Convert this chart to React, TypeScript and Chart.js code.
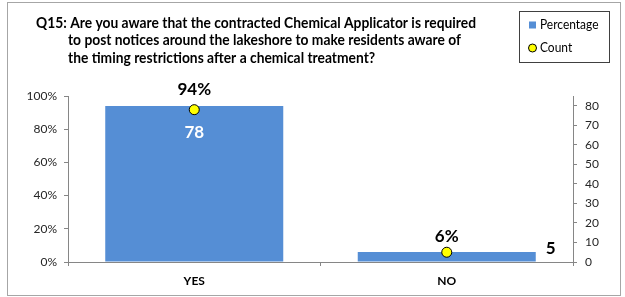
import React, { useEffect, useRef } from 'react';
import { Chart, registerables } from 'chart.js';

Chart.register(...registerables);

const categories = ['YES', 'NO'];
const percentages = [94, 6];
const counts = [78, 5];
const countLabelPlacement = ['inside', 'right'];
const titleLines = [
  'Q15: Are you aware that the contracted Chemical Applicator is required',
  'to post notices around the lakeshore to make residents aware of',
  'the timing restrictions after a chemical treatment?',
];
const legendLabels = ['Percentage', 'Count'];

const BAR_COLOR = '#558ED5';
const POINT_COLOR = '#FFFF00';
const AXIS_COLOR = '#868686';
const FONT = 'Lato, "Open Sans", sans-serif';

function drawText(
  ctx: CanvasRenderingContext2D,
  text: string,
  x: number,
  y: number,
  font: string,
  color: string,
  align: CanvasTextAlign,
  sx = 1
) {
  ctx.save();
  ctx.translate(x, y);
  ctx.scale(sx, 1);
  ctx.font = font;
  ctx.fillStyle = color;
  ctx.textAlign = align;
  ctx.textBaseline = 'middle';
  ctx.fillText(text, 0, 0);
  ctx.restore();
}

const decorPlugin = {
  id: 'decor',
  afterDraw(chart: any) {
    const ctx: CanvasRenderingContext2D = chart.ctx;
    // outer frame
    ctx.save();
    ctx.strokeStyle = '#A6A6A6';
    ctx.lineWidth = 1;
    ctx.strokeRect(7.5, 2.5, 613, 293);
    ctx.restore();

    // title
    const titleFont = `bold 14.5px ${FONT}`;
    ctx.save();
    ctx.font = titleFont;
    const w1 = ctx.measureText(titleLines[0]).width;
    ctx.restore();
    const sx = 440 / w1;
    drawText(ctx, titleLines[0], 36, 23, titleFont, '#000', 'left', sx);
    drawText(ctx, titleLines[1], 68, 40.5, titleFont, '#000', 'left', sx);
    drawText(ctx, titleLines[2], 68, 58, titleFont, '#000', 'left', sx);

    // legend
    ctx.save();
    ctx.strokeStyle = '#404040';
    ctx.lineWidth = 1;
    ctx.strokeRect(519.5, 11.5, 90, 51);
    ctx.fillStyle = BAR_COLOR;
    ctx.fillRect(529, 21.5, 7, 7);
    ctx.beginPath();
    ctx.arc(532.5, 48, 4, 0, Math.PI * 2);
    ctx.fillStyle = POINT_COLOR;
    ctx.fill();
    ctx.strokeStyle = '#000';
    ctx.stroke();
    ctx.restore();
    drawText(ctx, legendLabels[0], 540, 25, `13px ${FONT}`, '#000', 'left', 0.92);
    drawText(ctx, legendLabels[1], 540, 48, `13px ${FONT}`, '#000', 'left', 0.92);

    // data labels
    const barMeta = chart.getDatasetMeta(0);
    const ptMeta = chart.getDatasetMeta(1);
    const labelFont = `bold 17px ${FONT}`;
    barMeta.data.forEach((bar: any, i: number) => {
      drawText(ctx, `${percentages[i]}%`, bar.x, bar.y - 16, labelFont, '#000', 'center');
    });
    ptMeta.data.forEach((pt: any, i: number) => {
      const bar = barMeta.data[i];
      if (countLabelPlacement[i] === 'inside') {
        drawText(ctx, String(counts[i]), pt.x, pt.y + 23, labelFont, '#FFFFFF', 'center');
      } else {
        drawText(ctx, String(counts[i]), bar.x + bar.width / 2 + 10, pt.y - 4, labelFont, '#000', 'left');
      }
    });
  },
};

export default function App() {
  const ref = useRef<HTMLCanvasElement | null>(null);
  useEffect(() => {
    if (!ref.current) return;
    const chart = new Chart(ref.current, {
      type: 'bar',
      data: {
        labels: categories,
        datasets: [
          {
            type: 'bar',
            label: legendLabels[0],
            data: percentages,
            yAxisID: 'y',
            backgroundColor: BAR_COLOR,
            barPercentage: 0.705,
            categoryPercentage: 1,
            order: 2,
          } as any,
          {
            type: 'line',
            label: legendLabels[1],
            data: counts,
            yAxisID: 'y1',
            showLine: false,
            pointRadius: 5,
            pointBackgroundColor: POINT_COLOR,
            pointBorderColor: '#000',
            pointBorderWidth: 1,
            order: 1,
          } as any,
        ],
      },
      options: {
        animation: false,
        responsive: false,
        maintainAspectRatio: false,
        layout: { padding: { top: 96, left: 0, right: 0, bottom: 0 }, autoPadding: false },
        plugins: { legend: { display: false }, tooltip: { enabled: false }, title: { display: false } },
        scales: {
          x: {
            offset: true,
            grid: { display: true, drawOnChartArea: false, tickLength: 4, color: AXIS_COLOR, offset: true },
            border: { display: true, color: AXIS_COLOR },
            ticks: { font: { family: FONT, size: 12, weight: 'bold' }, color: '#000', padding: 8 },
            afterFit: (s: any) => { s.height = 35; },
          },
          y: {
            position: 'left',
            min: 0,
            max: 100,
            ticks: {
              stepSize: 20,
              callback: (v: any) => `${v}%`,
              font: { family: FONT, size: 12 },
              color: '#262626',
              padding: 7,
            },
            grid: { drawOnChartArea: false, tickLength: 4, color: AXIS_COLOR },
            border: { display: true, color: AXIS_COLOR },
            afterFit: (s: any) => { s.width = 68; },
          },
          y1: {
            position: 'right',
            min: 0,
            max: 85,
            ticks: {
              stepSize: 10,
              includeBounds: false,
              font: { family: FONT, size: 12 },
              color: '#262626',
              padding: 8,
            },
            grid: { drawOnChartArea: false, tickLength: 4, color: AXIS_COLOR },
            border: { display: true, color: AXIS_COLOR },
            afterFit: (s: any) => { s.width = 52; },
          },
        },
      } as any,
      plugins: [decorPlugin],
    });
    return () => chart.destroy();
  }, []);
  return (
    <div style={{ position: 'fixed', left: 0, top: 0, width: 625, height: 297, background: '#fff' }}>
      <canvas ref={ref} width={625} height={297} style={{ display: 'block' }} />
    </div>
  );
}
